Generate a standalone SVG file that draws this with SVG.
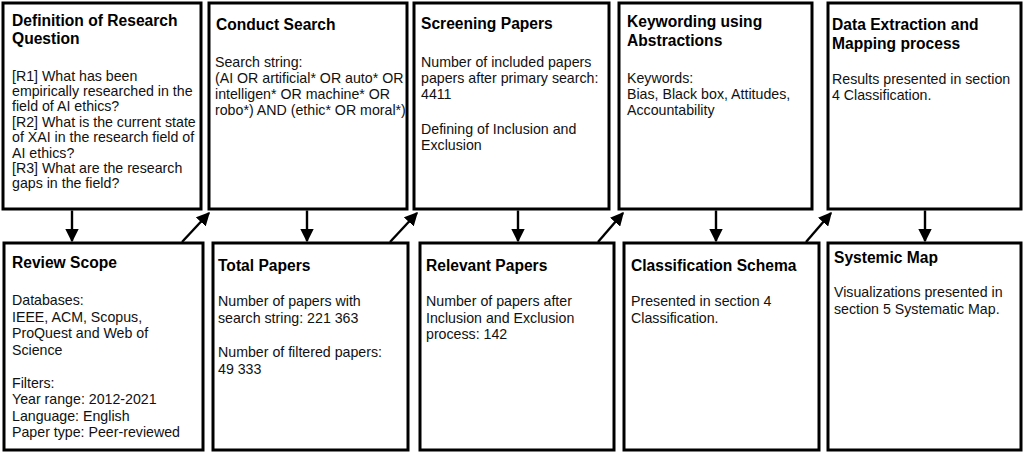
<svg xmlns="http://www.w3.org/2000/svg" width="1023" height="452" viewBox="0 0 1023 452">
<style>
.box{fill:#fff;stroke:#000;stroke-width:3}
.t{font-family:"Liberation Sans",Arial,Helvetica,sans-serif;font-weight:bold;font-size:15.6px;fill:#000}
.b{font-family:"Liberation Sans",Arial,Helvetica,sans-serif;font-size:14.2px;fill:#111}
.c{stroke:#000;stroke-width:2.4;fill:none}
</style>
<defs>
<marker id="ah" viewBox="0 0 10 10" refX="9" refY="5" markerWidth="5.6" markerHeight="5.6" orient="auto" markerUnits="strokeWidth">
<path d="M0,0 L10,5 L0,10 Z" fill="#000"/>
</marker>
</defs>
<rect width="1023" height="452" fill="#fff"/>
<g id="n1">
<rect class="box" x="3" y="3" width="198" height="206"/>
<text class="t" x="12" y="26">Definition of Research</text>
<text class="t" x="12" y="44">Question</text>
<text class="b" x="12" y="80.5">[R1] What has been</text>
<text class="b" x="12" y="95.9">empirically researched in the</text>
<text class="b" x="12" y="111.3">field of AI ethics?</text>
<text class="b" x="12" y="126.7">[R2] What is the current state</text>
<text class="b" x="12" y="142.1">of XAI in the research field of</text>
<text class="b" x="12" y="157.5">AI ethics?</text>
<text class="b" x="12" y="172.9">[R3] What are the research</text>
<text class="b" x="12" y="188.3">gaps in the field?</text>
</g>
<g id="n2">
<rect class="box" x="209" y="3" width="198" height="206"/>
<text class="t" x="216" y="30">Conduct Search</text>
<text class="b" x="215" y="67">Search string:</text>
<text class="b" x="215" y="83">(AI OR artificial* OR auto* OR</text>
<text class="b" x="215" y="99">intelligen* OR machine* OR</text>
<text class="b" x="215" y="115">robo*) AND (ethic* OR moral*)</text>
</g>
<g id="n3">
<rect class="box" x="414" y="3" width="195" height="206"/>
<text class="t" x="421" y="29">Screening Papers</text>
<text class="b" x="421" y="67">Number of included papers</text>
<text class="b" x="421" y="83">papers after primary search:</text>
<text class="b" x="421" y="99">4411</text>
<text class="b" x="421" y="133.5">Defining of Inclusion and</text>
<text class="b" x="421" y="149.5">Exclusion</text>
</g>
<g id="n4">
<rect class="box" x="619" y="3" width="193" height="206"/>
<text class="t" x="627" y="27">Keywording using</text>
<text class="t" x="627" y="46">Abstractions</text>
<text class="b" x="627" y="83">Keywords:</text>
<text class="b" x="627" y="99">Bias, Black box, Attitudes,</text>
<text class="b" x="627" y="115">Accountability</text>
</g>
<g id="n5">
<rect class="box" x="828" y="3" width="193" height="206"/>
<text class="t" x="832" y="29.5">Data Extraction and</text>
<text class="t" x="832" y="49">Mapping process</text>
<text class="b" x="832" y="83.5">Results presented in section</text>
<text class="b" x="832" y="100">4 Classification.</text>
</g>
<g id="n6">
<rect class="box" x="4" y="243" width="199" height="207"/>
<text class="t" x="12" y="267.5">Review Scope</text>
<text class="b" x="12" y="305">Databases:</text>
<text class="b" x="12" y="321.5">IEEE, ACM, Scopus,</text>
<text class="b" x="12" y="338">ProQuest and Web of</text>
<text class="b" x="12" y="354.5">Science</text>
<text class="b" x="12" y="387.5">Filters:</text>
<text class="b" x="12" y="404">Year range: 2012-2021</text>
<text class="b" x="12" y="420.5">Language: English</text>
<text class="b" x="12" y="437">Paper type: Peer-reviewed</text>
</g>
<g id="n7">
<rect class="box" x="213" y="243" width="195" height="207"/>
<text class="t" x="218" y="271">Total Papers</text>
<text class="b" x="218" y="306">Number of papers with</text>
<text class="b" x="218" y="322.5">search string: 221 363</text>
<text class="b" x="218" y="357">Number of filtered papers:</text>
<text class="b" x="218" y="373.5">49 333</text>
</g>
<g id="n8">
<rect class="box" x="420" y="243" width="194" height="207"/>
<text class="t" x="426" y="270.5">Relevant Papers</text>
<text class="b" x="426" y="306">Number of papers after</text>
<text class="b" x="426" y="322.5">Inclusion and Exclusion</text>
<text class="b" x="426" y="339">process: 142</text>
</g>
<g id="n9">
<rect class="box" x="624" y="243" width="195" height="207"/>
<text class="t" x="631" y="270.5">Classification Schema</text>
<text class="b" x="631" y="306">Presented in section 4</text>
<text class="b" x="631" y="322.5">Classification.</text>
</g>
<g id="n10">
<rect class="box" x="828" y="243" width="193" height="207"/>
<text class="t" x="834" y="262.5">Systemic Map</text>
<text class="b" x="834" y="297">Visualizations presented in</text>
<text class="b" x="834" y="313.5">section 5 Systematic Map.</text>
</g>
<g id="connectors">
<line class="c" x1="72" y1="210.5" x2="72" y2="241" marker-end="url(#ah)"/>
<line class="c" x1="307" y1="210.5" x2="307" y2="241" marker-end="url(#ah)"/>
<line class="c" x1="518" y1="210.5" x2="518" y2="241" marker-end="url(#ah)"/>
<line class="c" x1="716" y1="210.5" x2="716" y2="241" marker-end="url(#ah)"/>
<line class="c" x1="925" y1="210.5" x2="925" y2="241" marker-end="url(#ah)"/>
<line class="c" x1="182" y1="242" x2="209" y2="213" marker-end="url(#ah)"/>
<line class="c" x1="390" y1="242" x2="417" y2="213" marker-end="url(#ah)"/>
<line class="c" x1="598" y1="242" x2="623" y2="213" marker-end="url(#ah)"/>
<line class="c" x1="806" y1="242" x2="831" y2="213" marker-end="url(#ah)"/>
</g>
</svg>
